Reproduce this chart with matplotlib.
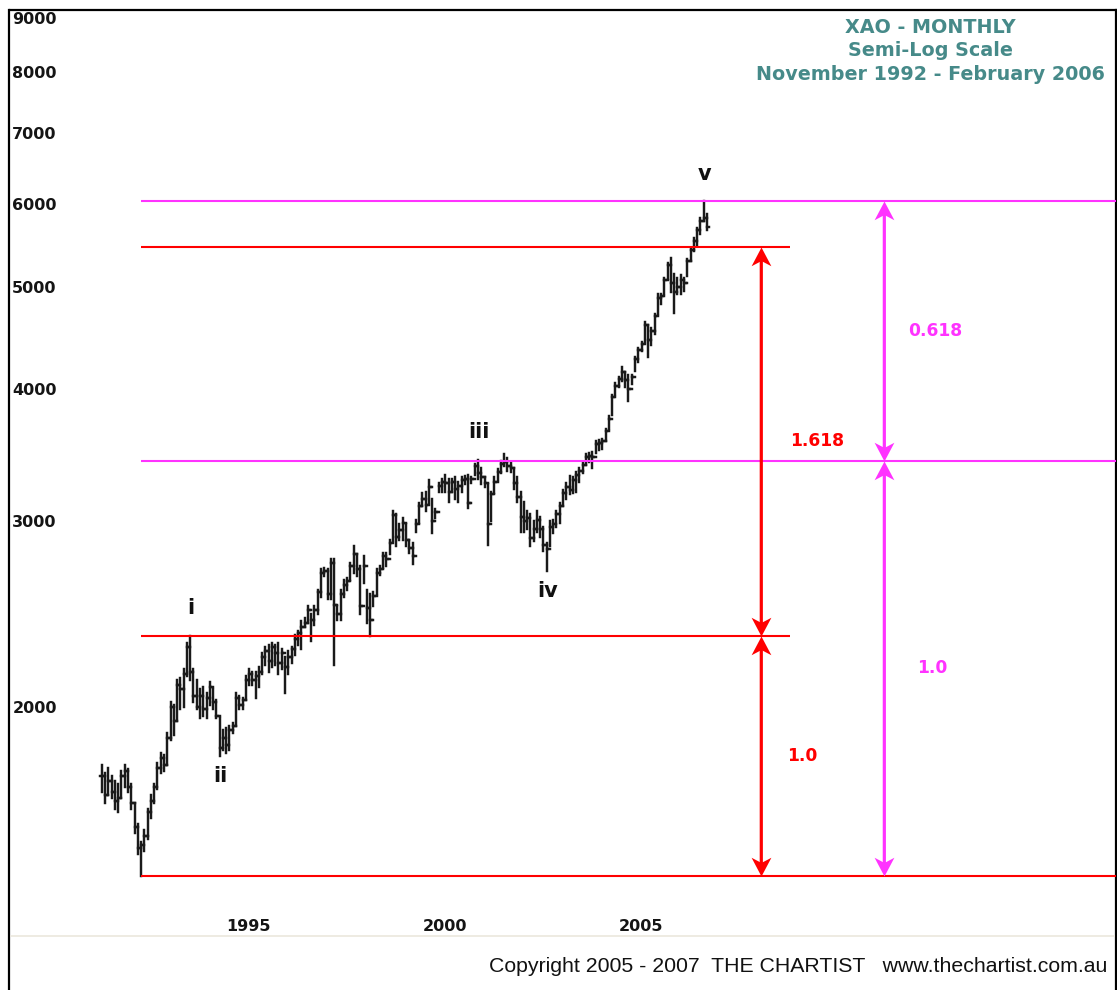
import numpy as np
import matplotlib
matplotlib.use("Agg")
import matplotlib.pyplot as plt
from matplotlib.path import Path
from matplotlib.lines import Line2D
from matplotlib.collections import LineCollection
from matplotlib.patches import FancyArrowPatch
from matplotlib.ticker import FixedLocator, NullLocator, FuncFormatter

# ---------------- data (monthly bars) ----------------
START_YEAR, START_MONTH = 1991, 11

highs = [
    1760, 1730, 1750, 1720, 1700, 1690, 1740, 1760, 1745, 1690, 1620, 1550,
    1490, 1530, 1600, 1650, 1690, 1770, 1810, 1800, 1890, 2020, 2010, 2120,
    2130, 2170, 2300, 2336, 2170, 2120, 2080, 2090, 2060, 2110, 2080, 2030,
    1950, 1900, 1910, 1920, 1930, 2060, 2050, 2040, 2140, 2170, 2160, 2160,
    2180, 2250, 2280, 2290, 2300, 2290, 2300, 2270, 2230, 2260, 2280, 2340,
    2360, 2410, 2430, 2490, 2450, 2490, 2580, 2700, 2710, 2700, 2760, 2760,
    2490, 2580, 2640, 2650, 2740, 2840, 2790, 2720, 2780, 2580, 2560, 2570,
    2700, 2720, 2800, 2800, 2880, 3070, 3050, 2980, 3020, 2980, 2880, 2860,
    3010, 3120, 3190, 3200, 3280, 3150, 3080, 3260, 3290, 3320, 3290, 3290,
    3300, 3270, 3300, 3310, 3320, 3300, 3400, 3430, 3370, 3300, 3250, 3200,
    3300, 3360, 3420, 3470, 3440, 3410, 3370, 3300, 3200, 3130, 3070, 3050,
    3000, 3070, 3030, 2960, 2860, 3000, 3010, 3070, 3120, 3210, 3260, 3310,
    3300, 3340, 3370, 3410, 3470, 3480, 3490, 3570, 3580, 3590, 3670, 3770,
    3950, 4060, 4110, 4200, 4150, 4130, 4130, 4290, 4380, 4440, 4630, 4600,
    4570, 4710, 4920, 4930, 5100, 5270, 5330, 5140, 5100, 5130, 5100, 5320,
    5450, 5560, 5690, 5820, 6030, 5870,
]
lows = [
    1660, 1620, 1650, 1640, 1600, 1590, 1640, 1680, 1660, 1600, 1520, 1450,
    1383, 1460, 1500, 1570, 1620, 1670, 1730, 1740, 1760, 1860, 1880, 1940,
    1990, 2000, 2140, 2120, 2020, 1990, 1950, 1960, 1950, 2010, 1990, 1950,
    1795, 1820, 1810, 1820, 1890, 1920, 1990, 1990, 2030, 2100, 2100, 2040,
    2090, 2150, 2190, 2160, 2180, 2190, 2150, 2170, 2060, 2150, 2200, 2240,
    2290, 2270, 2380, 2400, 2310, 2390, 2450, 2540, 2660, 2530, 2530, 2190,
    2420, 2420, 2540, 2580, 2640, 2680, 2660, 2450, 2620, 2400, 2336, 2490,
    2560, 2670, 2710, 2720, 2790, 2870, 2840, 2880, 2880, 2840, 2800, 2730,
    2930, 2990, 3100, 3070, 3120, 2920, 3020, 3200, 3200, 3200, 3130, 3200,
    3150, 3130, 3200, 3250, 3090, 3260, 3320, 3290, 3250, 3230, 2850, 3000,
    3190, 3280, 3330, 3380, 3350, 3340, 3220, 3130, 2930, 2930, 2950, 2840,
    2870, 2930, 2900, 2810, 2690, 2840, 2920, 2960, 2990, 3100, 3150, 3180,
    3190, 3200, 3270, 3330, 3390, 3410, 3370, 3480, 3500, 3510, 3570, 3670,
    3780, 3950, 4020, 4070, 4020, 3900, 4050, 4160, 4250, 4350, 4440, 4290,
    4410, 4510, 4710, 4820, 4920, 5090, 4950, 4730, 4920, 4930, 4960, 5120,
    5290, 5410, 5470, 5610, 5780, 5660,
]
closes = [
    1720, 1650, 1700, 1660, 1630, 1640, 1720, 1740, 1680, 1620, 1540, 1470,
    1480, 1510, 1590, 1630, 1680, 1750, 1790, 1760, 1870, 2000, 1940, 2100,
    2080, 2150, 2280, 2160, 2050, 2000, 2050, 1990, 2040, 2090, 2020, 1960,
    1830, 1870, 1840, 1900, 1920, 2040, 2010, 2030, 2120, 2150, 2120, 2140,
    2160, 2230, 2260, 2210, 2280, 2250, 2200, 2250, 2180, 2230, 2270, 2320,
    2350, 2380, 2400, 2470, 2420, 2470, 2570, 2680, 2690, 2560, 2740, 2500,
    2450, 2560, 2610, 2630, 2720, 2790, 2700, 2490, 2720, 2480, 2420, 2550,
    2680, 2700, 2780, 2760, 2860, 3040, 2900, 2940, 2990, 2880, 2830, 2780,
    2980, 3100, 3150, 3110, 3230, 3000, 3060, 3240, 3270, 3260, 3200, 3270,
    3220, 3240, 3280, 3290, 3120, 3290, 3380, 3330, 3300, 3260, 2980, 3180,
    3270, 3340, 3400, 3410, 3380, 3370, 3260, 3160, 3030, 3000, 3020, 2890,
    2950, 3010, 2950, 2850, 2820, 2960, 2980, 3050, 3100, 3190, 3230, 3210,
    3280, 3320, 3350, 3390, 3450, 3460, 3450, 3550, 3560, 3570, 3650, 3750,
    3930, 4030, 4090, 4150, 4080, 4000, 4110, 4270, 4360, 4420, 4600, 4450,
    4540, 4690, 4880, 4900, 5080, 5250, 5050, 4950, 5000, 5080, 5050, 5290,
    5420, 5530, 5660, 5780, 5820, 5700,
]

# Elliott-wave / Fibonacci levels
LEVEL_LOW = 1383        # wave start (Nov 1992 low)
LEVEL_WAVE_I = 2336     # top of wave i
LEVEL_WAVE_III = 3424   # top of wave iii
LEVEL_RED_TARGET = 5459  # 1.618 projection
LEVEL_MAG_TARGET = 6030  # 0.618 projection

y_ticks = [2000, 3000, 4000, 5000, 6000, 7000, 8000, 9000]
x_ticks = [1995, 2000, 2005]
x_tick_labels = ["1995", "2000", "2005"]

wave_labels = ["i", "ii", "iii", "iv", "v"]
wave_bars = [27, 36, 115, 136, 184]
wave_side = ["high", "low", "high", "low", "high"]

title_lines = ["XAO - MONTHLY", "Semi-Log Scale", "November 1992 - February 2006"]
copyright_text = "Copyright 2005 - 2007  THE CHARTIST   www.thechartist.com.au"

# ---------------- figure ----------------
W, H = 1117, 990
fig = plt.figure(figsize=(W / 100, H / 100), dpi=100)
fig.patch.set_facecolor("white")

ax_left, ax_right, ax_top = 9.5, 1115.5, 9.5
ax = fig.add_axes([ax_left / W, 0, (ax_right - ax_left) / W, (H - ax_top) / H])
ax.set_yscale("log")
ax.set_xlim(1989.48, 2017.66)
ax.set_ylim(1078, 9165)

for side in ("left", "top", "right"):
    ax.spines[side].set_linewidth(1.6)
    ax.spines[side].set_color("black")
ax.spines["bottom"].set_visible(False)

# ticks
ax.yaxis.set_major_locator(FixedLocator(y_ticks))
ax.yaxis.set_minor_locator(NullLocator())
ax.yaxis.set_major_formatter(FuncFormatter(lambda v, p: f"{v:.0f}"))
ax.tick_params(axis="y", length=0, pad=-2, labelsize=11.5, labelcolor="#151515")
for lbl in ax.get_yticklabels():
    lbl.set_fontweight("bold")
    lbl.set_horizontalalignment("left")

ax.set_xticks(x_ticks)
ax.set_xticklabels(x_tick_labels)
ax.xaxis.set_minor_locator(NullLocator())
ax.tick_params(axis="x", length=0, pad=-51, labelsize=11.5, labelcolor="#151515")
for lbl in ax.get_xticklabels():
    lbl.set_fontweight("bold")
    lbl.set_horizontalalignment("left")

# ---------------- OHLC bars ----------------
n = len(closes)
t = START_YEAR + (START_MONTH - 1) / 12 + np.arange(n) / 12
hi = np.array(highs, float)
lo = np.array(lows, float)
cl = np.array(closes, float)
op = np.r_[cl[0], cl[:-1]]
tick_w = 0.5 / 12
segs = []
for ti, h, l, o, c in zip(t, hi, lo, op, cl):
    segs.append([(ti, l), (ti, h)])
    segs.append([(ti - tick_w, o), (ti, o)])
    segs.append([(ti, c), (ti + tick_w, c)])
ax.add_collection(LineCollection(segs, colors="#1a1a1a", linewidths=1.75,
                                 capstyle="projecting", zorder=3))

# ---------------- Fibonacci lines ----------------
RED = "#ff0000"
MAG = "#ff33ff"
line_start = t[int(np.argmin(lo))]
red_end = 2009.375
x_right = ax.get_xlim()[1]
ax.hlines([LEVEL_WAVE_I, LEVEL_RED_TARGET], line_start, red_end, colors=RED, lw=1.5, zorder=4)
ax.hlines([LEVEL_LOW], line_start, x_right, colors=RED, lw=1.5, zorder=4)
ax.hlines([LEVEL_WAVE_III, LEVEL_MAG_TARGET], line_start, x_right, colors=MAG, lw=1.5, zorder=4)

# arrowheads as notched markers
up_head = Path([(0, 0), (-9.5, -18), (0, -13), (9.5, -18), (0, 0)],
               [Path.MOVETO, Path.LINETO, Path.LINETO, Path.LINETO, Path.CLOSEPOLY])
down_head = Path([(0, 0), (-9.5, 18), (0, 13), (9.5, 18), (0, 0)],
                 [Path.MOVETO, Path.LINETO, Path.LINETO, Path.LINETO, Path.CLOSEPOLY])


def double_arrow(x, y_bottom, y_top, color):
    shaft = FancyArrowPatch((x, y_bottom), (x, y_top), arrowstyle="-",
                            shrinkA=8, shrinkB=8, lw=2.3, color=color, zorder=5)
    ax.add_patch(shaft)
    ax.plot([x], [y_top], marker=up_head, ms=27, color=color, mew=0, zorder=6)
    ax.plot([x], [y_bottom], marker=down_head, ms=27, color=color, mew=0, zorder=6)


RED_ARROW_X = 2008.635
MAG_ARROW_X = 2011.77
double_arrow(RED_ARROW_X, LEVEL_WAVE_I, LEVEL_RED_TARGET, RED)
double_arrow(RED_ARROW_X, LEVEL_LOW, LEVEL_WAVE_I, RED)
double_arrow(MAG_ARROW_X, LEVEL_WAVE_III, LEVEL_MAG_TARGET, MAG)
double_arrow(MAG_ARROW_X, LEVEL_LOW, LEVEL_WAVE_III, MAG)


def gmean(a, b):
    return float(np.sqrt(a * b))


fib_font = dict(fontsize=12.3, fontweight="bold", ha="center", va="center", zorder=7)
ax.text(2010.06, gmean(LEVEL_WAVE_I, LEVEL_RED_TARGET), "1.618", color=RED, **fib_font)
ax.text(2009.68, gmean(LEVEL_LOW, LEVEL_WAVE_I), "1.0", color=RED, **fib_font)
ax.text(2013.07, gmean(LEVEL_WAVE_III, LEVEL_MAG_TARGET), "0.618", color=MAG, **fib_font)
ax.text(2012.99, gmean(LEVEL_LOW, LEVEL_WAVE_III), "1.0", color=MAG, **fib_font)

# wave labels
for lab, idx, side in zip(wave_labels, wave_bars, wave_side):
    if side == "high":
        xy, dy = (t[idx], hi[idx]), 20
    else:
        xy, dy = (t[idx], lo[idx]), -14
    ax.annotate(lab, xy=xy, xytext=(0.5, dy), textcoords="offset points",
                ha="center", va="center", fontsize=15, fontweight="bold",
                color="#111111", zorder=7)

# ---------------- titles & footer ----------------
TEAL = "#468a89"
for k, line in enumerate(title_lines):
    fig.text(930 / W, 1 - (27.5 + 23.5 * k) / H, line, ha="center", va="center",
             fontsize=13.8, fontweight="bold", color=TEAL)

fig.add_artist(Line2D([ax_left / W + 0.001, ax_right / W - 0.001], [1 - 936 / H] * 2,
                      color="#ebe7dd", lw=1.2))
fig.text(1107 / W, 1 - 967 / H, copyright_text, ha="right", va="center",
         fontsize=15.3, family=["Liberation Sans", "DejaVu Sans"], color="#111111")

fig.savefig("out.png", dpi=100, facecolor="white")
